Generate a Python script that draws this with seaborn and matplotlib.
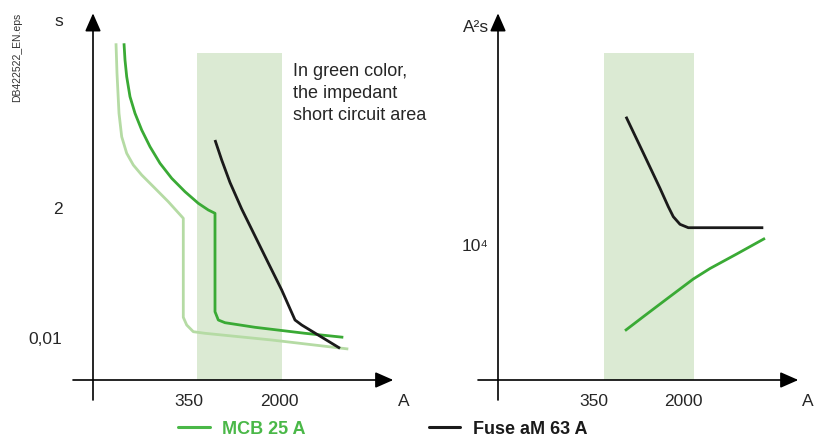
import pandas as pd
import matplotlib
matplotlib.use("Agg")
import matplotlib.pyplot as plt
from matplotlib.lines import Line2D
import seaborn as sns

# diagram units: distance from the axes origin
# left panel: time-current curves (s vs A)
mcb_light_x = [23, 24, 26, 28.7, 33.7, 40.3, 48.7, 62, 75.3, 90.3, 90.3, 93.7, 100.3, 112, 178.7, 255.3]
mcb_light_y = [336.7, 306.7, 266.7, 243.3, 226.7, 215, 205, 191.7, 178.3, 161.7, 62.7, 55, 48.3, 46.7, 40, 31]

mcb_x = [31, 32, 33.7, 37, 42, 48.7, 57, 67, 78.7, 92, 105.3, 115.3, 122, 122, 125.3, 132, 162, 212, 250.3]
mcb_y = [336.7, 320, 303.3, 283.3, 266.7, 250, 233.3, 216.7, 201.7, 188.3, 176.7, 170, 166.7,
         68.3, 60, 57.3, 52.7, 46.7, 42.7]

fuse_x = [122, 128.7, 137, 148.7, 162, 175.3, 188.7, 202, 208.7, 247]
fuse_y = [240, 220, 197.5, 171, 144, 117, 90, 60, 55, 31.7]

# right panel: let-through energy (A²s vs A)
fuse_i2t_x = [128, 145.3, 162, 170.3, 175.3, 182, 190.3, 265.3]
fuse_i2t_y = [263.3, 227, 191.7, 173.3, 163.3, 155.7, 152.3, 152.3]

mcb_i2t_x = [127, 145.3, 168.7, 195.3, 212, 238.7, 267]
mcb_i2t_y = [49.3, 63.3, 81, 101, 111.5, 126, 141.7]

# impedant short-circuit zone and labels
zone_left = [104, 189]
zone_right = [106, 196]
zone_top = 327
x_ticks_left = [96, 186]
x_ticks_right = [96, 185]
x_tick_labels = ["350", "2000"]

GREEN = "#3aaa35"
LIGHT_GREEN = "#b5dba4"
ZONE = "#dbead3"
BLACK = "#1a1a1a"
FONT = ["Liberation Sans", "DejaVu Sans"]

sns.set_style("white")
plt.rcParams['font.family'] = FONT

fig = plt.figure(figsize=(8.2, 4.36), dpi=100)
ax1 = fig.add_axes([30 / 820, 26 / 436, 390 / 820, 405 / 436])
ax2 = fig.add_axes([430 / 820, 26 / 436, 385 / 820, 405 / 436])
ax1.set_xlim(-63, 327)
ax2.set_xlim(-68, 317)
for ax in (ax1, ax2):
    ax.set_ylim(-30, 375)
    ax.axis("off")


def draw_axes(ax):
    arrow = dict(arrowstyle="-|>,head_length=0.5,head_width=0.22", color="black",
                 lw=1.2, shrinkA=0, shrinkB=0, mutation_scale=22)
    ax.annotate("", xy=(300.3, 0), xytext=(-20, 0), arrowprops=arrow)
    ax.annotate("", xy=(0, 366.7), xytext=(0, -20), arrowprops=arrow)


def curve(ax, xs, ys, color):
    df = pd.DataFrame({"x": xs, "y": ys})
    sns.lineplot(data=df, x="x", y="y", ax=ax, color=color, lw=2.0,
                 sort=False, estimator=None, solid_capstyle="butt", solid_joinstyle="round")


# left panel
ax1.fill_between(zone_left, 0, zone_top, color=ZONE, lw=0, zorder=0)
draw_axes(ax1)
curve(ax1, mcb_light_x, mcb_light_y, LIGHT_GREEN)
curve(ax1, mcb_x, mcb_y, GREEN)
curve(ax1, fuse_x, fuse_y, BLACK)
for x, lab in zip(x_ticks_left, x_tick_labels):
    ax1.text(x, -21, lab, ha="center", va="center", fontsize=12.5)
ax1.text(311, -21, "A", ha="center", va="center", fontsize=12.5)
ax1.text(-34, 358, "s", ha="center", va="center", fontsize=12.5)
ax1.text(-35, 171, "2", ha="center", va="center", fontsize=12.5)
ax1.text(-48, 41, "0,01", ha="center", va="center", fontsize=12.5)
ax1.text(200, 317, "In green color,\nthe impedant\nshort circuit area", ha="left", va="top",
         fontsize=13, linespacing=1.4, clip_on=False)

# right panel
ax2.fill_between(zone_right, 0, zone_top, color=ZONE, lw=0, zorder=0)
draw_axes(ax2)
curve(ax2, fuse_i2t_x, fuse_i2t_y, BLACK)
curve(ax2, mcb_i2t_x, mcb_i2t_y, GREEN)
for x, lab in zip(x_ticks_right, x_tick_labels):
    ax2.text(x, -21, lab, ha="center", va="center", fontsize=12.5)
ax2.text(310, -21, "A", ha="center", va="center", fontsize=12.5)
ax2.text(-22, 353, "A²s", ha="center", va="center", fontsize=12.5)
ax2.text(-23, 134, "10⁴", ha="center", va="center", fontsize=12.5)

# reference code on the side
fig.text(17 / 820, 1 - 57 / 436, "DB422522_EN.eps", rotation=90, ha="center", va="center",
         fontsize=7.5, color="#333333")

handles = [Line2D([], [], color="#4ab848", lw=2.2), Line2D([], [], color=BLACK, lw=2.2)]
leg = fig.legend(handles, ["MCB 25 A", "Fuse aM 63 A"], ncol=2, frameon=False,
                 loc="center left", bbox_to_anchor=(178 / 820, 7 / 436),
                 borderpad=0, borderaxespad=0, handlelength=1.75, handletextpad=0.7,
                 columnspacing=6.8,
                 prop={"family": FONT, "weight": "bold", "size": 13})
leg.get_texts()[0].set_color("#4ab848")
leg.get_texts()[1].set_color(BLACK)

fig.savefig("out.png", dpi=100)
